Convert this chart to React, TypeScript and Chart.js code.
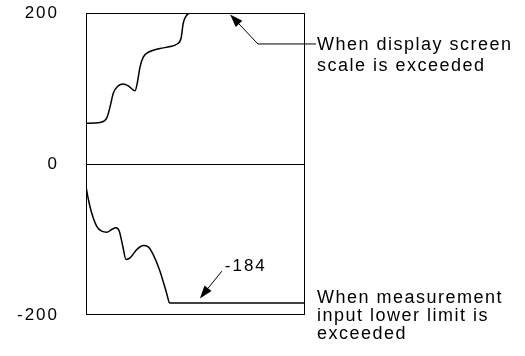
import React, { useEffect, useRef } from "react";
import { Chart, registerables } from "chart.js";

Chart.register(...registerables);

// Upper trace (display scale exceeded -> clipped at 200)
const upperX = [0, 6.4, 9.5, 11, 12.5, 14.7, 17, 19.3, 21.6, 22.4, 23.4, 24.7, 26.2, 29.2, 33.8, 38.4, 41.4, 43.4, 44.4, 45.7, 47.5, 100];
const upperY = [54, 55, 61, 76, 94, 103.5, 106, 103.5, 98, 97, 107, 129, 142, 149, 153, 155.5, 158.6, 166.6, 186.4, 196, 200, 200];

// Lower trace (input lower limit exceeded -> held at -184)
const lowerX = [0, 1.1, 2.6, 4.9, 7.2, 9.5, 11.7, 13.7, 15.2, 16.8, 18.3, 20.1, 23.2, 26.2, 28.4, 30.7, 33.5, 36.1, 38];
const lowerY = [-30, -47, -65, -82.5, -89, -90.4, -86.8, -84.6, -89, -109, -126.5, -124.3, -113.3, -108, -109.7, -120, -139.7, -164, -184];
const flatX = [38, 100];
const flatY = [-184, -184];

const yTicks = [-200, 0, 200];
const limitLabel = "-184";
const noteTop = ["When display screen", "scale is exceeded"];
const noteBottom = ["When measurement", "input lower limit is", "exceeded"];

const FONT = "'Liberation Sans', Arial, Helvetica, sans-serif";

function drawArrow(ctx: CanvasRenderingContext2D, x0: number, y0: number, x1: number, y1: number) {
  const ang = Math.atan2(y1 - y0, x1 - x0);
  const len = 13;
  const hw = 4.5;
  const bx = x1 - Math.cos(ang) * len;
  const by = y1 - Math.sin(ang) * len;
  ctx.beginPath();
  ctx.moveTo(x0, y0);
  ctx.lineTo(bx, by);
  ctx.stroke();
  ctx.beginPath();
  ctx.moveTo(x1, y1);
  ctx.lineTo(bx + Math.sin(ang) * hw, by - Math.cos(ang) * hw);
  ctx.lineTo(bx - Math.sin(ang) * hw, by + Math.cos(ang) * hw);
  ctx.closePath();
  ctx.fill();
}

const spacingPlugin = {
  id: "spacing",
  beforeDraw(chart: any) {
    (chart.ctx as any).letterSpacing = "2px";
  },
};

const boxPlugin = {
  id: "box",
  beforeDatasetsDraw(chart: any) {
    const { ctx, chartArea } = chart;
    ctx.save();
    ctx.strokeStyle = "#000";
    ctx.lineWidth = 1;
    ctx.strokeRect(
      Math.round(chartArea.left) + 0.5,
      Math.round(chartArea.top) + 0.5,
      Math.round(chartArea.right - chartArea.left) - 1,
      Math.round(chartArea.bottom - chartArea.top) - 1
    );
    ctx.restore();
  },
};

const annotationPlugin = {
  id: "notes",
  afterDraw(chart: any) {
    const { ctx, chartArea } = chart;
    const x = chart.scales.x;
    const y = chart.scales.y;
    ctx.save();
    ctx.strokeStyle = "#000";
    ctx.fillStyle = "#000";
    ctx.lineWidth = 1;

    // top arrow: tip on clipped line, elbow, then leader to text
    const tipX = x.getPixelForValue(65.8);
    const tipY = y.getPixelForValue(198);
    const elbX = x.getPixelForValue(78.5);
    const elbY = y.getPixelForValue(159);
    drawArrow(ctx, elbX, elbY, tipX, tipY);
    const textX = chartArea.right + 11;
    ctx.beginPath();
    ctx.moveTo(elbX, elbY);
    ctx.lineTo(textX, elbY);
    ctx.stroke();

    ctx.font = `18px ${FONT}`;
    (ctx as any).letterSpacing = "1.5px";
    ctx.textAlign = "left";
    ctx.textBaseline = "alphabetic";
    noteTop.forEach((t, i) => ctx.fillText(t, textX + 1, elbY + 6 + i * 21));
    noteBottom.forEach((t, i) => ctx.fillText(t, textX + 1, chartArea.bottom - 12 + i * 18));

    // lower arrow with -184 label
    const t2x = x.getPixelForValue(52);
    const t2y = y.getPixelForValue(-178);
    const s2x = x.getPixelForValue(62);
    const s2y = y.getPixelForValue(-142);
    drawArrow(ctx, s2x, s2y, t2x, t2y);
    ctx.font = `17px ${FONT}`;
    (ctx as any).letterSpacing = "2px";
    ctx.fillText(limitLabel, s2x + 3, s2y);
    ctx.restore();
  },
};

export default function App() {
  const ref = useRef<HTMLCanvasElement | null>(null);
  useEffect(() => {
    if (!ref.current) return;
    const toPts = (xs: number[], ys: number[]) => xs.map((v, i) => ({ x: v, y: ys[i] }));
    const common = {
      borderColor: "#000",
      borderWidth: 1.5,
      pointRadius: 0,
      fill: false,
    };
    const chart = new Chart(ref.current, {
      type: "line",
      data: {
        datasets: [
          { ...common, data: toPts(upperX, upperY), cubicInterpolationMode: "monotone" },
          { ...common, data: toPts(lowerX, lowerY), cubicInterpolationMode: "monotone" },
          { ...common, data: toPts(flatX, flatY), tension: 0 },
        ] as any,
      },
      options: {
        animation: false,
        responsive: false,
        devicePixelRatio: 1,
        layout: { padding: { left: 0, top: 13, right: 220, bottom: 41 } },
        plugins: { legend: { display: false }, tooltip: { enabled: false } },
        scales: {
          x: { type: "linear", min: 0, max: 100, display: false },
          y: {
            type: "linear",
            min: -200,
            max: 200,
            afterBuildTicks: (s: any) => {
              s.ticks = yTicks.map((v) => ({ value: v }));
            },
            afterFit: (s: any) => {
              s.width = 86;
              s.paddingTop = 0;
              s.paddingBottom = 0;
            },
            border: { display: false },
            grid: {
              drawTicks: false,
              color: (c: any) => (c.tick && c.tick.value === 0 ? "#000" : "rgba(0,0,0,0)"),
              lineWidth: 1,
            },
            ticks: {
              color: "#000",
              padding: 27,
              font: { family: FONT, size: 17 },
            },
          },
        },
      } as any,
      plugins: [spacingPlugin, boxPlugin, annotationPlugin],
    });
    return () => chart.destroy();
  }, []);
  return (
    <div style={{ position: "fixed", left: 0, top: 0, width: 525, height: 356, background: "#fff" }}>
      <canvas ref={ref} width={525} height={356} />
    </div>
  );
}
